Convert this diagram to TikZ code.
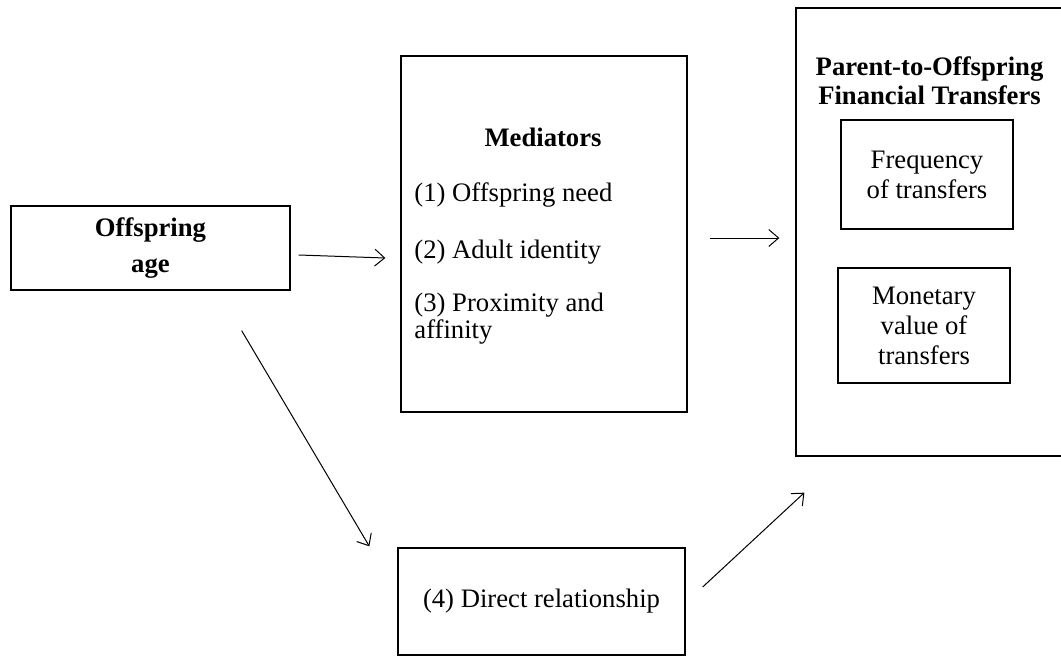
\documentclass[tikz,border=0pt]{standalone}
\usepackage{fontspec}
\setmainfont{Liberation Serif}
\usetikzlibrary{arrows.meta}

\begin{document}
\begin{tikzpicture}[
		x=0.45pt, y=-0.45pt,
		box/.style={draw, line width=0.6pt, rectangle, inner sep=0pt},
		txt/.style={font=\fontsize{12}{13.5}\selectfont, align=center, inner sep=0pt},
		head/.style={font=\fontsize{12}{13}\selectfont\bfseries, align=center, inner sep=0pt},
		item/.style={font=\fontsize{12}{12.2}\selectfont, align=left, anchor=west, inner sep=0pt},
		arr/.style={line width=0.45pt, -{Straight Barb[length=4.4pt, width=7.6pt]}}
		]
		
		% Parameters
		\def\u{0.45pt}
		
		% Page size
		\useasboundingbox (0,0) rectangle (1061,658);
		
		% Draw the age box
		\node[box, head, font=\fontsize{12}{16.6}\selectfont\bfseries, minimum width=279*\u, minimum height=84*\u] (age) at (150.5,248) {Offspring\\age};
		
		% Draw the mediators box and its text
		\node[box, minimum width=286*\u, minimum height=356*\u] (med) at (544,234) {};
		\node[head] (medtitle) at (543,137) {Mediators};
		\node[item] (need) at (414,195) {(1) Offspring need};
		\node[item] (adult) at (414,252) {(2) Adult identity};
		\node[item] (prox) at (414,318.5) {(3) Proximity and\\affinity};
		
		% Draw the direct relationship box
		\node[box, txt, minimum width=287*\u, minimum height=107*\u] (direct) at (541.5,601.5) {(4) Direct relationship};
		
		% Draw the transfers box (cut at the right edge) and the two inner boxes
		\node[box, minimum width=276*\u, minimum height=448*\u] (outer) at (934,232) {};
		\node[head] (outtitle) at (929.5,80.5) {Parent-to-Offspring\\Financial Transfers};
		\node[box, txt, minimum width=172*\u, minimum height=109*\u] (freq) at (927,174.5) {Frequency\\of transfers};
		\node[box, txt, minimum width=172*\u, minimum height=115*\u] (money) at (924,325.5) {Monetary\\value of\\transfers};
		
		% Draw the arrows
		\draw[arr] ([shift={(8,7)}]age.east) -- ([shift={(-15,24)}]med.west);
		\draw[arr] ([shift={(22,4)}]med.east) -- ([shift={(-16,6)}]outer.west);
		\draw[arr] ([shift={(-49,40)}]age.south east) -- ([shift={(-28,-1)}]direct.north west);
		\draw[arr] ([shift={(17,-14.5)}]direct.east) -- ([shift={(9,36)}]outer.south west);
		
	\end{tikzpicture}
\end{document}
